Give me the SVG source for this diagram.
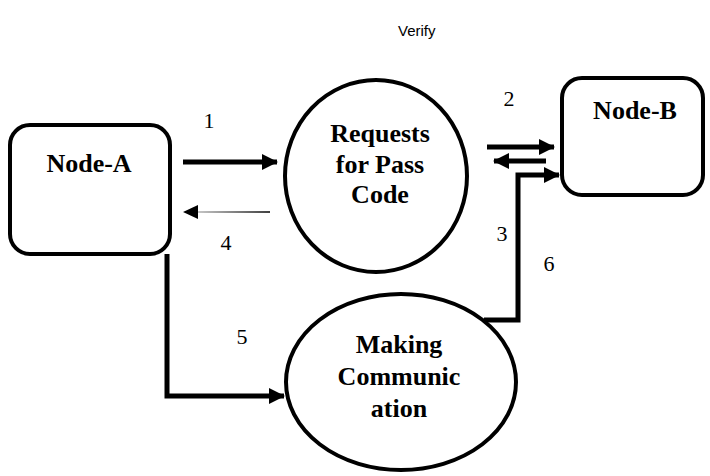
<svg xmlns="http://www.w3.org/2000/svg" width="710" height="476" viewBox="0 0 710 476">
  <defs>
    <style>
      .shape { fill: #fff; stroke: #000; stroke-width: 4; }
      .title { font-weight: bold; font-size: 26px; fill: #000; text-anchor: middle; }
      .num { font-size: 22px; fill: #000; text-anchor: middle; }
      .note { font-size: 15px; fill: #000; }
      .thick { fill: none; stroke: #000; stroke-width: 5; marker-end: url(#head); }
    </style>
    <marker id="head" markerUnits="userSpaceOnUse" markerWidth="16" markerHeight="18" refX="15" refY="8" orient="auto">
      <polygon points="0,0 16,8 0,16" fill="#000"/>
    </marker>
    <linearGradient id="fade" gradientUnits="userSpaceOnUse" x1="183" y1="0" x2="270" y2="0">
      <stop offset="0" stop-color="#d8d8d8"/>
      <stop offset="1" stop-color="#000"/>
    </linearGradient>
  </defs>

  <rect width="710" height="476" fill="#fff"/>

  <text class="note" x="398" y="36" font-family="Liberation Sans, Arial, sans-serif">Verify</text>

  <!-- node labels use the Times-metric serif -->
  <g font-family="Liberation Serif, Tinos, DejaVu Serif, serif">
    <g id="node-a">
      <rect class="shape" x="10" y="125" width="160" height="129" rx="20" ry="20"/>
      <text class="title" x="89" y="172">Node-A</text>
    </g>

    <g id="node-b">
      <rect class="shape" x="562" y="78" width="141" height="117" rx="20" ry="20"/>
      <text class="title" x="635" y="119">Node-B</text>
    </g>

    <g id="requests">
      <ellipse class="shape" cx="376" cy="176" rx="91" ry="96"/>
      <text class="title" x="380" y="142">Requests</text>
      <text class="title" x="380" y="173">for Pass</text>
      <text class="title" x="380" y="203">Code</text>
    </g>

    <g id="making">
      <ellipse class="shape" cx="401" cy="382" rx="115" ry="88"/>
      <text class="title" x="399" y="353">Making</text>
      <text class="title" x="399" y="385">Communic</text>
      <text class="title" x="399" y="417">ation</text>
    </g>

    <g id="labels">
      <text class="num" x="209" y="128">1</text>
      <text class="num" x="509" y="106">2</text>
      <text class="num" x="502" y="241">3</text>
      <text class="num" x="226" y="250">4</text>
      <text class="num" x="242" y="344">5</text>
      <text class="num" x="549" y="271">6</text>
    </g>
  </g>

  <g id="connectors">
    <line class="thick" x1="183" y1="162" x2="277" y2="162"/>
    <path d="M270,212 H198" fill="none" stroke="url(#fade)" stroke-width="1.5"/>
    <polygon points="183,212 198,205 198,219" fill="#000"/>
    <line class="thick" x1="487" y1="147" x2="554" y2="147"/>
    <line class="thick" x1="546" y1="161" x2="494" y2="161"/>
    <path class="thick" d="M484,320 H518 V175 H559"/>
    <path class="thick" d="M167,254 V396 H284"/>
  </g>
</svg>
